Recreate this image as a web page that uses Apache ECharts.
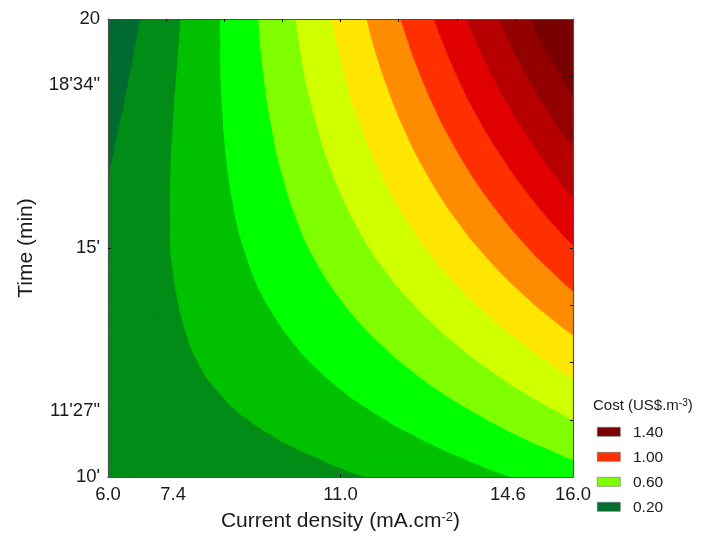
<!DOCTYPE html>
<html>
<head>
<meta charset="utf-8">
<script src="https://cdn.jsdelivr.net/npm/echarts@6/dist/echarts.min.js"></script>
<style>
html,body{margin:0;padding:0;background:#ffffff;}
#chart{width:704px;height:537px;}
</style>
</head>
<body>
<div id="chart"></div>
<script>
// ---- data ----
const currentDensity = [6, 6.5, 7, 7.5, 8, 8.5, 9, 9.5, 10, 10.5, 11, 11.5, 12, 12.5, 13, 13.5, 14, 14.5, 15, 15.5, 16]; // mA.cm-2
const timeMin = [10, 10.5, 11, 11.5, 12, 12.5, 13, 13.5, 14, 14.5, 15, 15.5, 16, 16.5, 17, 17.5, 18, 18.5, 19, 19.5, 20]; // min
// cost (US$.m-3): one row per time value, one column per current density value
const cost_t10_0 = [0.232,0.232,0.234,0.237,0.240,0.245,0.251,0.259,0.267,0.276,0.287,0.299,0.312,0.326,0.341,0.357,0.375,0.393,0.413,0.434,0.456];
const cost_t10_5 = [0.236,0.239,0.243,0.248,0.255,0.262,0.271,0.281,0.292,0.304,0.318,0.332,0.348,0.365,0.383,0.402,0.422,0.443,0.466,0.489,0.514];
const cost_t11_0 = [0.238,0.244,0.251,0.259,0.269,0.279,0.290,0.303,0.317,0.332,0.348,0.365,0.384,0.403,0.424,0.446,0.469,0.493,0.518,0.544,0.572];
const cost_t11_5 = [0.239,0.248,0.258,0.268,0.280,0.294,0.308,0.323,0.340,0.358,0.376,0.396,0.417,0.440,0.463,0.488,0.513,0.540,0.568,0.597,0.627];
const cost_t12_0 = [0.240,0.251,0.263,0.277,0.292,0.307,0.324,0.343,0.362,0.382,0.404,0.427,0.450,0.475,0.502,0.529,0.557,0.587,0.618,0.649,0.682];
const cost_t12_5 = [0.239,0.253,0.268,0.284,0.302,0.320,0.340,0.361,0.383,0.406,0.430,0.456,0.482,0.510,0.539,0.569,0.600,0.632,0.666,0.700,0.736];
const cost_t13_0 = [0.237,0.253,0.271,0.290,0.311,0.332,0.354,0.378,0.403,0.429,0.456,0.484,0.513,0.544,0.575,0.608,0.642,0.677,0.713,0.750,0.789];
const cost_t13_5 = [0.234,0.254,0.274,0.296,0.319,0.343,0.368,0.395,0.422,0.451,0.481,0.512,0.544,0.577,0.611,0.647,0.683,0.721,0.760,0.800,0.841];
const cost_t14_0 = [0.231,0.253,0.277,0.301,0.327,0.354,0.382,0.411,0.441,0.472,0.505,0.538,0.573,0.609,0.646,0.684,0.724,0.764,0.806,0.849,0.893];
const cost_t14_5 = [0.227,0.252,0.278,0.305,0.334,0.363,0.394,0.426,0.459,0.493,0.528,0.564,0.602,0.641,0.680,0.721,0.763,0.807,0.851,0.896,0.943];
const cost_t15_0 = [0.222,0.250,0.279,0.309,0.340,0.372,0.405,0.440,0.476,0.513,0.551,0.590,0.630,0.671,0.714,0.758,0.802,0.848,0.895,0.944,0.993];
const cost_t15_5 = [0.215,0.246,0.277,0.310,0.344,0.379,0.415,0.453,0.491,0.531,0.571,0.613,0.656,0.700,0.746,0.792,0.839,0.888,0.938,0.989,1.041];
const cost_t16_0 = [0.208,0.241,0.276,0.311,0.348,0.385,0.424,0.464,0.506,0.548,0.591,0.636,0.682,0.728,0.777,0.826,0.876,0.927,0.980,1.034,1.089];
const cost_t16_5 = [0.200,0.236,0.273,0.311,0.351,0.391,0.433,0.475,0.519,0.564,0.611,0.658,0.706,0.756,0.807,0.859,0.912,0.966,1.021,1.078,1.135];
const cost_t17_0 = [0.191,0.230,0.270,0.311,0.353,0.396,0.440,0.486,0.532,0.580,0.629,0.679,0.730,0.783,0.836,0.891,0.946,1.003,1.061,1.121,1.181];
const cost_t17_5 = [0.182,0.223,0.265,0.309,0.354,0.400,0.447,0.495,0.545,0.595,0.647,0.700,0.753,0.809,0.865,0.922,0.981,1.040,1.101,1.163,1.226];
const cost_t18_0 = [0.171,0.215,0.261,0.307,0.354,0.403,0.453,0.504,0.556,0.609,0.664,0.719,0.776,0.834,0.893,0.953,1.014,1.076,1.140,1.205,1.270];
const cost_t18_5 = [0.160,0.207,0.255,0.304,0.354,0.406,0.458,0.512,0.567,0.623,0.680,0.738,0.798,0.858,0.920,0.983,1.047,1.112,1.178,1.245,1.314];
const cost_t19_0 = [0.148,0.198,0.248,0.300,0.353,0.408,0.463,0.519,0.577,0.636,0.695,0.756,0.819,0.882,0.946,1.012,1.079,1.146,1.215,1.285,1.357];
const cost_t19_5 = [0.135,0.188,0.241,0.296,0.352,0.408,0.467,0.526,0.586,0.647,0.710,0.774,0.839,0.905,0.972,1.040,1.110,1.180,1.252,1.325,1.399];
const cost_t20_0 = [0.122,0.177,0.233,0.291,0.349,0.409,0.470,0.531,0.594,0.659,0.724,0.790,0.858,0.927,0.997,1.068,1.140,1.213,1.288,1.363,1.400];
const cost = [cost_t10_0, cost_t10_5, cost_t11_0, cost_t11_5, cost_t12_0, cost_t12_5, cost_t13_0,
              cost_t13_5, cost_t14_0, cost_t14_5, cost_t15_0, cost_t15_5, cost_t16_0, cost_t16_5,
              cost_t17_0, cost_t17_5, cost_t18_0, cost_t18_5, cost_t19_0, cost_t19_5, cost_t20_0];

const levels = [0.2, 0.3, 0.4, 0.5, 0.6, 0.7, 0.8, 0.9, 1.0, 1.1, 1.2, 1.3];
const bandColors = ['#006b30', '#008c16', '#00c000', '#00ff00', '#7fff00', '#d0ff00',
                    '#ffe600', '#ff8c00', '#ff3000', '#e00000', '#b60000', '#920000', '#780000'];

const legendLabels = ['1.40', '1.00', '0.60', '0.20'];
const legendColors = ['#7a0000', '#ff3000', '#7fff00', '#007030'];

const xTickValues = [6.0, 7.4, 11.0, 14.6, 16.0];
const xTickLabels = ['6.0', '7.4', '11.0', '14.6', '16.0'];
const yTickValues = [10, 11.45, 15, 18.5667, 20];
const yTickLabels = ["10'", "11'27\"", "15'", "18'34\"", "20"];
const topMinorTicks = [7.25, 8.5, 9.75, 11, 12.25, 13.5, 14.75];
const rightMinorTicks = [11.25, 12.5, 13.75, 15, 16.25, 17.5, 18.75];

// ---- build grid cells ----
const cells = [];
for (let j = 0; j < timeMin.length - 1; j++) {
  for (let i = 0; i < currentDensity.length - 1; i++) {
    cells.push([currentDensity[i], timeMin[j], currentDensity[i + 1], timeMin[j + 1],
                cost[j][i], cost[j][i + 1], cost[j + 1][i], cost[j + 1][i + 1]]);
  }
}

function clipPoly(poly, t, keepAbove) {
  const out = [];
  const n = poly.length;
  for (let k = 0; k < n; k++) {
    const P = poly[k], Q = poly[(k + 1) % n];
    const pin = keepAbove ? P[2] >= t : P[2] <= t;
    const qin = keepAbove ? Q[2] >= t : Q[2] <= t;
    if (pin) out.push(P);
    if (pin !== qin) {
      const s = (t - P[2]) / (Q[2] - P[2]);
      out.push([P[0] + s * (Q[0] - P[0]), P[1] + s * (Q[1] - P[1]), t]);
    }
  }
  return out;
}

function renderCell(params, api) {
  const x0 = api.value(0), y0 = api.value(1), x1 = api.value(2), y1 = api.value(3);
  const A = [x0, y0, api.value(4)];
  const B = [x1, y0, api.value(5)];
  const D = [x0, y1, api.value(6)];
  const C = [x1, y1, api.value(7)];
  const tris = [[A, B, C], [A, C, D]];
  const children = [];
  for (const tri of tris) {
    for (let b = 0; b < bandColors.length; b++) {
      let poly = tri;
      if (b > 0) poly = clipPoly(poly, levels[b - 1], true);
      if (poly.length < 3) continue;
      if (b < levels.length) poly = clipPoly(poly, levels[b], false);
      if (poly.length < 3) continue;
      const pts = poly.map(p => api.coord([p[0], p[1]]));
      children.push({
        type: 'polygon',
        shape: { points: pts },
        style: { fill: bandColors[b], stroke: bandColors[b], lineWidth: 1.3, lineJoin: 'round' }
      });
    }
  }
  return { type: 'group', children: children };
}

const FONT = "'Liberation Sans', Arial, sans-serif";
const TXT = '#1a1a1a';
const AXC = '#505050';

const chart = echarts.init(document.getElementById('chart'), null, { renderer: 'canvas' });

const legendGraphics = [];
legendGraphics.push({
  type: 'text', left: 593, top: 398, z: 100,
  style: {
    text: 'Cost (US$.m{sup|-3})',
    font: '15px ' + FONT, fill: TXT,
    rich: { sup: { fontSize: 10, fontFamily: 'Liberation Sans', verticalAlign: 'top', fill: TXT } }
  }
});
legendLabels.forEach((lab, k) => {
  legendGraphics.push({
    type: 'rect', left: 597, top: 427 + k * 25, z: 100,
    shape: { width: 23, height: 9 },
    style: { fill: legendColors[k], stroke: '#6a6a6a', lineWidth: 0.6 }
  });
  legendGraphics.push({
    type: 'text', left: 633, top: 425 + k * 25, z: 100,
    style: { text: lab, font: '15.5px ' + FONT, fill: TXT }
  });
});

const option = {
  animation: false,
  backgroundColor: '#ffffff',
  textStyle: { fontFamily: FONT },
  grid: { left: 108, right: 131, top: 19, bottom: 60 },
  xAxis: [
    {
      type: 'value', min: 6, max: 16, position: 'bottom', z: 10,
      axisLine: { show: true, onZero: false, lineStyle: { color: AXC, width: 1.2 } },
      axisTick: { show: true, inside: true, length: 3, customValues: [11], lineStyle: { color: '#111' } },
      splitLine: { show: false },
      axisLabel: {
        customValues: xTickValues,
        formatter: v => { const k = xTickValues.indexOf(v); return k >= 0 ? xTickLabels[k] : ''; },
        fontSize: 18.5, color: TXT, margin: 8, fontFamily: FONT
      },
      name: 'Current density (mA.cm{sup|-2})',
      nameLocation: 'middle', nameGap: 34,
      nameTextStyle: {
        fontSize: 21, color: TXT, fontFamily: FONT,
        rich: { sup: { fontSize: 13, verticalAlign: 'top', color: TXT, fontFamily: FONT } }
      }
    },
    {
      type: 'value', min: 6, max: 16, position: 'top', z: 10,
      axisLine: { show: true, onZero: false, lineStyle: { color: AXC, width: 1.2 } },
      axisTick: { show: true, inside: true, length: 3, customValues: topMinorTicks, lineStyle: { color: '#111' } },
      axisLabel: { show: false },
      splitLine: { show: false }
    }
  ],
  yAxis: [
    {
      type: 'value', min: 10, max: 20, position: 'left', z: 10,
      axisLine: { show: true, onZero: false, lineStyle: { color: AXC, width: 1.2 } },
      axisTick: { show: true, inside: true, length: 3, customValues: [15], lineStyle: { color: '#111' } },
      splitLine: { show: false },
      axisLabel: {
        customValues: yTickValues,
        formatter: v => { const k = yTickValues.indexOf(v); return k >= 0 ? yTickLabels[k] : ''; },
        fontSize: 18.5, color: TXT, margin: 8, fontFamily: FONT
      },
      name: 'Time (min)',
      nameLocation: 'middle', nameGap: 71,
      nameTextStyle: { fontSize: 21, color: TXT, fontFamily: FONT }
    },
    {
      type: 'value', min: 10, max: 20, position: 'right', z: 10,
      axisLine: { show: true, onZero: false, lineStyle: { color: AXC, width: 1.2 } },
      axisTick: { show: true, inside: true, length: 3, customValues: rightMinorTicks, lineStyle: { color: '#111' } },
      axisLabel: { show: false },
      splitLine: { show: false }
    }
  ],
  series: [
    {
      type: 'custom',
      xAxisIndex: 0, yAxisIndex: 0,
      clip: true,
      z: 1,
      renderItem: renderCell,
      dimensions: ['x0', 'y0', 'x1', 'y1', 'c00', 'c10', 'c01', 'c11'],
      encode: { x: [0, 2], y: [1, 3] },
      data: cells,
      silent: true
    }
  ],
  graphic: legendGraphics
};

chart.setOption(option);
</script>
</body>
</html>
